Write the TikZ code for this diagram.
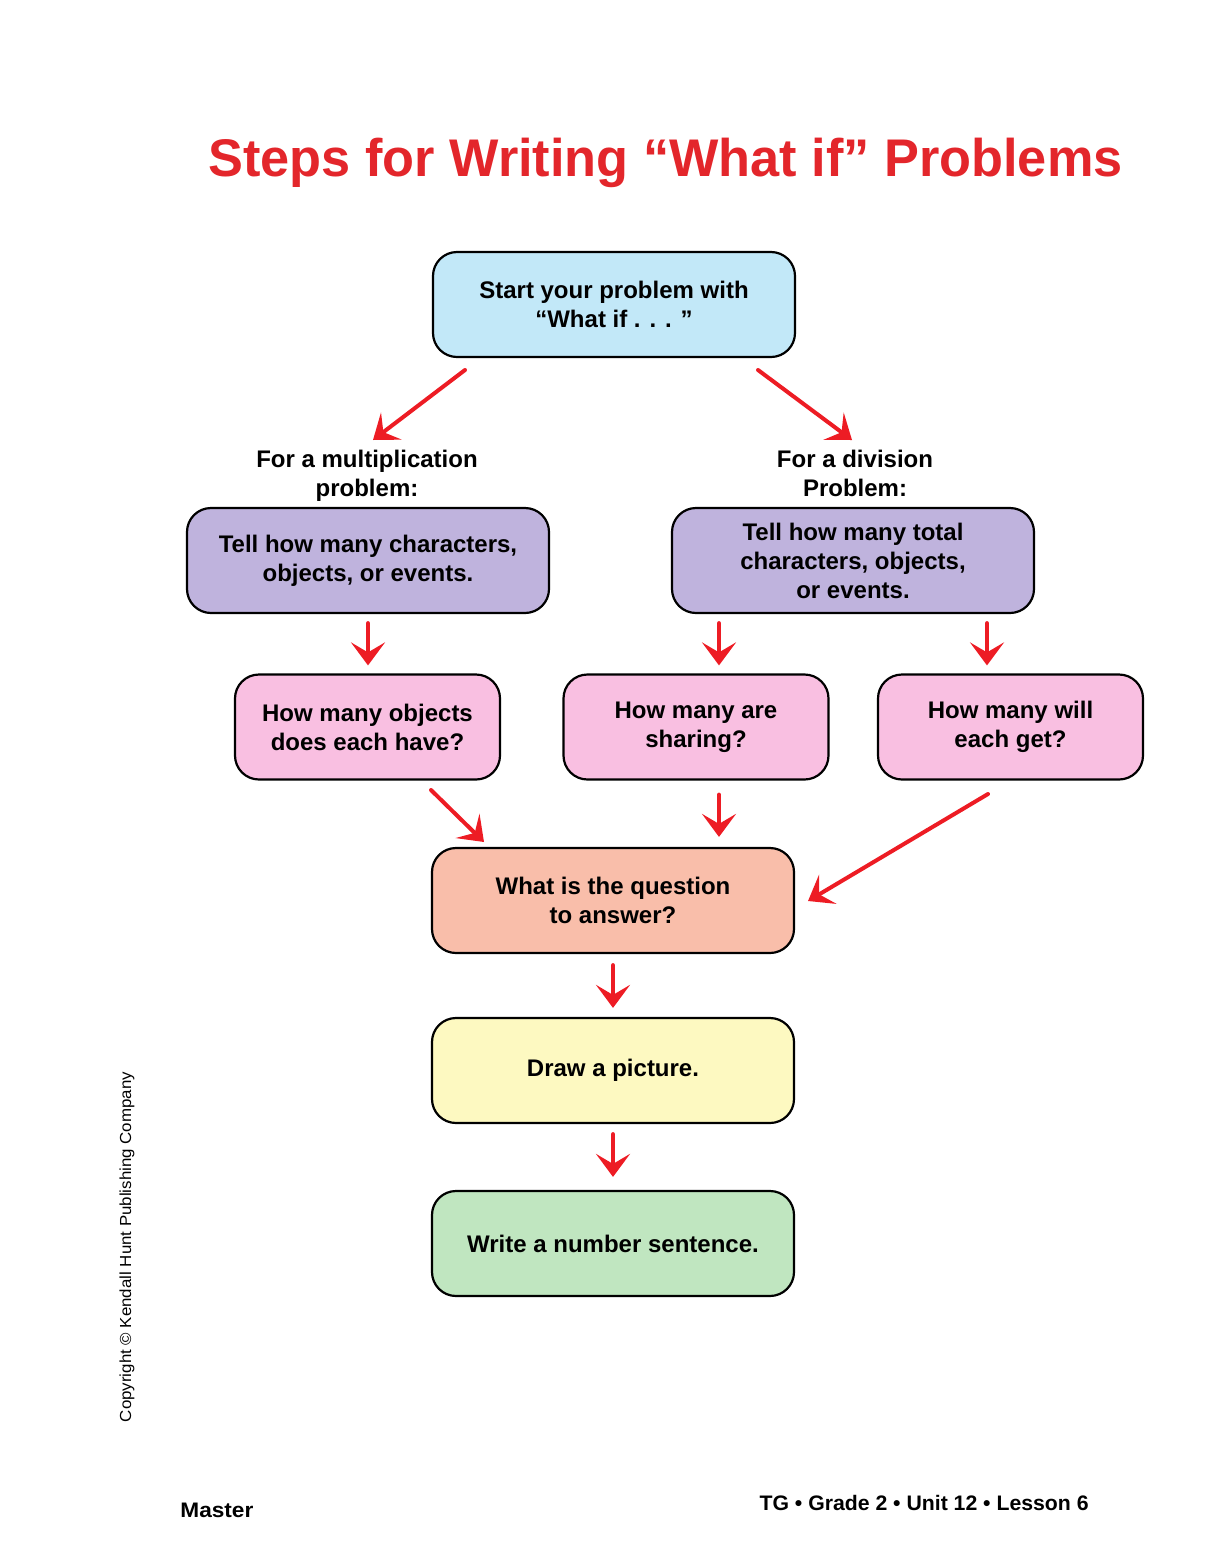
\documentclass[tikz,border=0pt]{standalone}
\usepackage{fontspec}
\setmainfont{Liberation Sans}
\usetikzlibrary{positioning,arrows.meta,calc}
\definecolor{titlered}{HTML}{E3262B}
\definecolor{arrowred}{HTML}{ED1C24}
\definecolor{startblue}{HTML}{C2E8F8}
\definecolor{stepviolet}{HTML}{BFB3DD}
\definecolor{askpink}{HTML}{F9BFE1}
\definecolor{asksalmon}{HTML}{F9BEAA}
\definecolor{drawyellow}{HTML}{FDF9C1}
\definecolor{writegreen}{HTML}{C0E6C0}

\begin{document}
\begin{tikzpicture}[x=0.5bp, y=-0.5bp, >={Stealth[length=11.5bp,width=17bp,inset=5bp]},
    stepbox/.style={draw=black, line width=1.1bp, rounded corners=12bp, inner sep=0pt,
      minimum width=181bp, minimum height=52.5bp, align=center,
      font=\fontsize{12bp}{14.5bp}\selectfont\bfseries},
    askbox/.style={stepbox, fill=askpink, minimum width=132.5bp},
    note/.style={align=center, font=\fontsize{12bp}{14.5bp}\selectfont\bfseries},
    arr/.style={->, arrowred, line width=2bp, line cap=round}]
  \useasboundingbox (0,0) rectangle (1224,1566);

  % title
  \node[anchor=base, text=titlered, inner sep=0pt] (title) at (665.5,176)
    {\resizebox{457bp}{\height}{\fontsize{26.5bp}{30bp}\selectfont\bfseries Steps for Writing “What if” Problems}};

  % boxes
  \node[stepbox, fill=startblue] (start) at (614,304.5) {Start your problem with\\“What if . . . ”};
  \node[note] (multnote) at (367,476) {For a multiplication\\problem:};
  \node[note] (divnote) at (855,473.5) {For a division\\Problem:};
  \node[stepbox, fill=stepviolet] (mult) at (368,560.5) {Tell how many characters,\\objects, or events.};
  \node[stepbox, fill=stepviolet] (div) at (853,560.5) {Tell how many total\\characters, objects,\\or events.};
  \node[askbox] (each) at (367.5,727) {How many objects\\does each have?};
  \node[askbox] (share) at (696,727) {How many are\\sharing?};
  \node[askbox] (get) at (1010.5,727) {How many will\\each get?};
  \node[stepbox, fill=asksalmon] (quest) at (613,900.5) {What is the question\\to answer?};
  \node[stepbox, fill=drawyellow] (pic) at (613,1070.5) {Draw a picture.};
  \node[stepbox, fill=writegreen] (sent) at (613,1243.5) {Write a number sentence.};

  % arrow ends
  \coordinate (colB) at (719,0);
  \coordinate (colC) at (987,0);
  \coordinate (startL) at (465,370);
  \coordinate (multTip) at (373,440);
  \coordinate (startR) at (758,370);
  \coordinate (divTip) at (852,440);
  \coordinate (eachOut) at (431,790);
  \coordinate (questL) at (484,842);
  \coordinate (getOut) at (988,794);
  \coordinate (questR) at (808,901);

  % arrows
  \draw[arr] (startL) -- (multTip);
  \draw[arr] (startR) -- (divTip);
  \draw[arr, shorten <=4.5bp, shorten >=4bp] (mult.south) -- (mult.south |- each.north);
  \draw[arr, shorten <=4.5bp, shorten >=4bp] (colB |- div.south) -- (colB |- share.north);
  \draw[arr, shorten <=4.5bp, shorten >=4bp] (colC |- div.south) -- (colC |- get.north);
  \draw[arr] (eachOut) -- (questL);
  \draw[arr, shorten <=7bp, shorten >=5bp] (colB |- share.south) -- (colB |- quest.north);
  \draw[arr] (getOut) -- (questR);
  \draw[arr, shorten <=5.5bp, shorten >=4.5bp] (quest) -- (pic);
  \draw[arr, shorten <=5bp, shorten >=6.5bp] (pic) -- (sent);

  % margins
  \node[rotate=90, inner sep=0pt, font=\fontsize{8bp}{9bp}\selectfont] (copy) at (127,1247)
    {\resizebox{175bp}{\height}{Copyright © Kendall Hunt Publishing Company}};
  \node[anchor=base west, inner sep=0pt] (master) at (180,1517)
    {\resizebox{36.5bp}{\height}{\fontsize{10.5bp}{12bp}\selectfont\bfseries Master}};
  \node[anchor=base east, inner sep=0pt] (lesson) at (1089,1510)
    {\resizebox{164.5bp}{\height}{\fontsize{10.5bp}{12bp}\selectfont\bfseries TG • Grade 2 • Unit 12 • Lesson 6}};
\end{tikzpicture}
\end{document}
